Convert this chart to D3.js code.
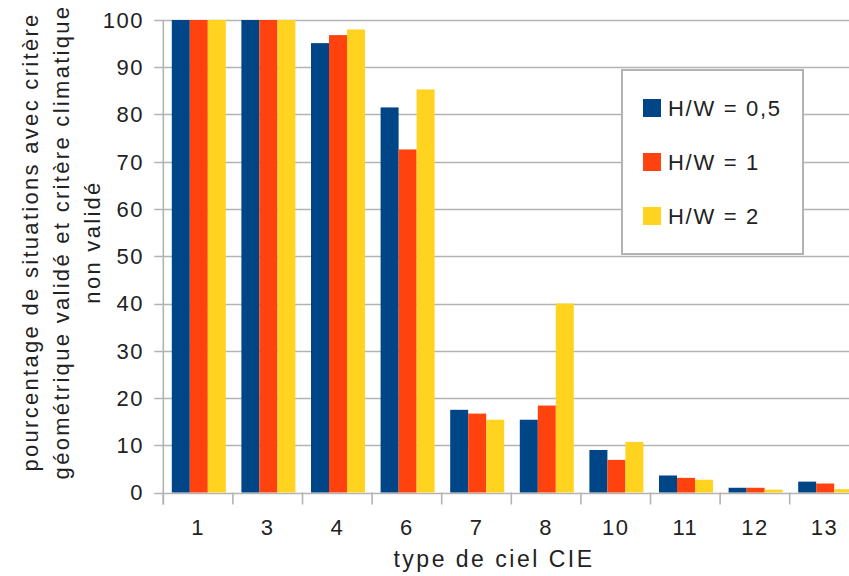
<!DOCTYPE html>
<html>
<head>
<meta charset="utf-8">
<script src="https://cdn.jsdelivr.net/npm/d3@7"></script>
<style>
  html, body { margin: 0; padding: 0; background: #fff; }
  svg { display: block; font-family: "Liberation Sans", Arial, sans-serif; }
</style>
</head>
<body>
<svg id="chart" width="849" height="576"></svg>
<script>
const categories = ["1", "3", "4", "6", "7", "8", "10", "11", "12", "13"];
const seriesNames = ["H/W = 0,5", "H/W = 1", "H/W = 2"];
const hw05 = [100, 100, 95.1, 81.5, 17.5, 15.4, 9.0, 3.6, 1.0, 2.3];
const hw1  = [100, 100, 96.8, 72.6, 16.7, 18.4, 6.9, 3.1, 1.0, 1.9];
const hw2  = [100, 100, 98.0, 85.3, 15.4, 40.0, 10.7, 2.7, 0.6, 0.7];
const yTicks = [0, 10, 20, 30, 40, 50, 60, 70, 80, 90, 100];
const colors = ["#004586", "#ff420e", "#ffd320"];
const yTitleLines = ["pourcentage de situations avec critère", "géométrique validé et critère climatique", "non validé"];
const xTitle = "type de ciel CIE";

(function () {
const series = [hw05, hw1, hw2];
const svg = d3.select("#chart");

const pLeft = 163.3, pRight = 859.3, pTop = 20, pBottom = 492.5;
const x = d3.scaleBand().domain(categories).range([pLeft, pRight]).paddingInner(0).paddingOuter(0);
const xs = d3.scaleBand().domain(d3.range(series.length)).range([8.5, x.bandwidth() - 7.1]).padding(0);
const y = d3.scaleLinear().domain([0, 100]).range([pBottom, pTop]);

const grid = "#b3b3b3";
const fontSize = 22;

// gridlines + y ticks
svg.append("g").selectAll("line").data(yTicks).join("line")
  .attr("x1", pLeft - 9).attr("x2", 849)
  .attr("y1", d => Math.round(y(d)) + 0.5).attr("y2", d => Math.round(y(d)) + 0.5)
  .attr("stroke", grid).attr("stroke-width", 1.6);

// y axis line
svg.append("line").attr("x1", pLeft).attr("x2", pLeft).attr("y1", pTop).attr("y2", pBottom + 12)
  .attr("stroke", grid).attr("stroke-width", 1.6);

// x ticks at band boundaries
const bounds = categories.map(c => x(c)).concat([x(categories[categories.length - 1]) + x.bandwidth()]);
svg.append("g").selectAll("line").data(bounds).join("line")
  .attr("x1", d => d).attr("x2", d => d)
  .attr("y1", pBottom).attr("y2", pBottom + 12)
  .attr("stroke", grid).attr("stroke-width", 1.6);

// bars
const gCat = svg.append("g").selectAll("g").data(categories).join("g")
  .attr("transform", c => `translate(${x(c)},0)`);
gCat.selectAll("rect").data((c, i) => series.map((s, k) => ({k, v: s[i]}))).join("rect")
  .attr("x", d => xs(d.k)).attr("width", xs.bandwidth())
  .attr("y", d => y(d.v)).attr("height", d => y(0) - y(d.v))
  .attr("fill", d => colors[d.k]);

// y tick labels
svg.append("g").selectAll("text").data(yTicks).join("text")
  .attr("x", 144).attr("y", d => y(d)).attr("dy", "0.36em")
  .attr("text-anchor", "end").attr("font-size", fontSize).attr("letter-spacing", 1.5)
  .attr("fill", "#222").text(d => d);

// x tick labels
svg.append("g").selectAll("text").data(categories).join("text")
  .attr("x", c => x(c) + x.bandwidth() / 2).attr("y", 535)
  .attr("text-anchor", "middle").attr("font-size", fontSize).attr("letter-spacing", 1.5)
  .attr("fill", "#222").text(c => c);

// x title
svg.append("text").attr("x", 494).attr("y", 567)
  .attr("text-anchor", "middle").attr("font-size", 23).attr("letter-spacing", 2.5)
  .attr("fill", "#222").text(xTitle);

// y title
const yt = svg.append("text").attr("transform", "translate(0,242) rotate(-90)")
  .attr("text-anchor", "middle").attr("font-size", fontSize).attr("letter-spacing", 2.3).attr("fill", "#222");
yTitleLines.forEach((t, i) => {
  yt.append("tspan").attr("x", 0).attr("y", 38 + i * 31).text(t);
});

// legend
const lg = svg.append("g");
lg.append("rect").attr("x", 622).attr("y", 70).attr("width", 181).attr("height", 184)
  .attr("fill", "#fff").attr("stroke", grid).attr("stroke-width", 2);
const items = lg.selectAll("g").data(seriesNames).join("g")
  .attr("transform", (d, i) => `translate(643,${108 + i * 54})`);
items.append("rect").attr("x", 0).attr("y", -9).attr("width", 18).attr("height", 18)
  .attr("fill", (d, i) => colors[i]);
items.append("text").attr("x", 25).attr("y", 0).attr("dy", "0.36em")
  .attr("font-size", fontSize).attr("letter-spacing", 1.7).attr("fill", "#222").text(d => d);
})();
</script>
</body>
</html>
